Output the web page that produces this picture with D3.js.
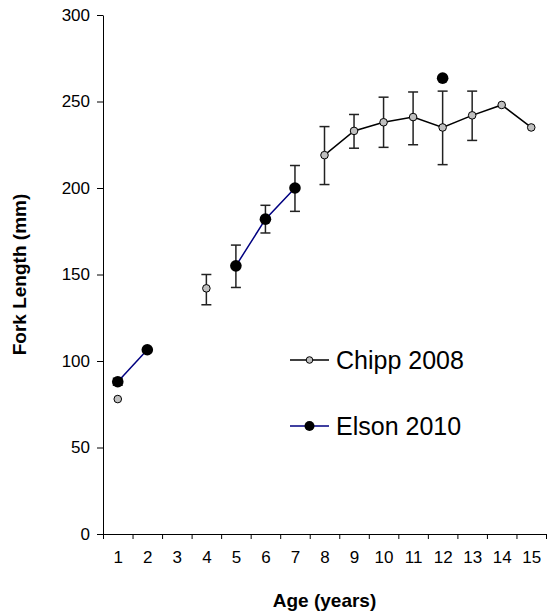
<!DOCTYPE html>
<html>
<head>
<meta charset="utf-8">
<script src="https://cdn.jsdelivr.net/npm/d3@7"></script>
<style>
  body { margin: 0; background: #fff; }
  text { font-family: "Liberation Sans", Arial, sans-serif; }
</style>
</head>
<body>
<svg width="549" height="615"></svg>
<script>
// ages on the x axis
const ages = [1, 2, 3, 4, 5, 6, 7, 8, 9, 10, 11, 12, 13, 14, 15];
const yTicks = [0, 50, 100, 150, 200, 250, 300];

// Chipp 2008: age, mean, low, high (null = no error bar)
const chippAge  = [1, 4, 8, 9, 10, 11, 12, 13, 14, 15];
const chippMean = [78, 142, 219, 233, 238, 241, 235, 242, 248, 235];
const chippLow  = [null, 132.5, 202, 223, 223.5, 225, 213.5, 227.5, null, null];
const chippHigh = [null, 150, 235.5, 242.5, 252.5, 255.5, 256, 256, null, null];
// which points are joined by the line
const chippLine = [8, 9, 10, 11, 12, 13, 14, 15];

// Elson 2010
const elsonAge  = [1, 2, 5, 6, 7, 12];
const elsonMean = [88, 106.5, 155, 182, 200, 263.5];
const elsonLow  = [86, null, 142.5, 174, 186.5, null];
const elsonHigh = [90, null, 167, 190, 213, null];
const elsonSegments = [[1, 2], [5, 6, 7]];

const svg = d3.select("svg");

// plot edges
const plot = { left: 103, right: 546, top: 15, bottom: 534 };

const x = d3.scaleLinear().domain([0.5, 15.5]).range([plot.left, plot.right]);
const y = d3.scaleLinear().domain([0, 300]).range([plot.bottom, plot.top]);

// y axis
const yAxis = svg.append("g")
    .attr("transform", `translate(${plot.left},0)`)
    .call(d3.axisLeft(y).tickValues(yTicks).tickSize(6).tickSizeOuter(0));
yAxis.selectAll("text").style("font-size", "17px").attr("fill", "#000").attr("x", -13);

// x axis: ticks between the ages, labels under them
const xAxis = svg.append("g")
    .attr("transform", `translate(0,${plot.bottom})`)
    .call(d3.axisBottom(x).tickValues(d3.range(0.5, 16, 1)).tickFormat("").tickSize(5).tickSizeOuter(0));
const xLabels = svg.append("g")
    .attr("transform", `translate(0,${plot.bottom})`)
    .call(d3.axisBottom(x).tickValues(ages).tickSize(0).tickFormat(d3.format("d")));
xLabels.select(".domain").remove();
xLabels.selectAll("text").style("font-size", "17px").attr("fill", "#000").attr("y", 17);

svg.selectAll(".domain, .tick line").attr("stroke", "#000");

// axis titles
svg.append("text")
    .attr("x", (plot.left + plot.right) / 2)
    .attr("y", 607)
    .attr("text-anchor", "middle")
    .style("font-size", "19px")
    .style("font-weight", "bold")
    .text("Age (years)");

svg.append("text")
    .attr("transform", "rotate(-90)")
    .attr("x", -(plot.top + plot.bottom) / 2)
    .attr("y", 26)
    .attr("text-anchor", "middle")
    .style("font-size", "19px")
    .style("font-weight", "bold")
    .text("Fork Length (mm)");

// error bars
function errorBars(ageArr, low, high) {
    const idx = ageArr.map((a, i) => i).filter(i => low[i] !== null);
    const g = svg.append("g").attr("stroke", "#222").attr("stroke-width", 1.5);
    idx.forEach(i => {
        const cx = x(ageArr[i]);
        g.append("line").attr("x1", cx).attr("x2", cx).attr("y1", y(low[i])).attr("y2", y(high[i]));
        g.append("line").attr("x1", cx - 5).attr("x2", cx + 5).attr("y1", y(low[i])).attr("y2", y(low[i]));
        g.append("line").attr("x1", cx - 5).attr("x2", cx + 5).attr("y1", y(high[i])).attr("y2", y(high[i]));
    });
}
errorBars(chippAge, chippLow, chippHigh);
errorBars(elsonAge, elsonLow, elsonHigh);

const line = d3.line().x(d => x(d[0])).y(d => y(d[1]));

// Chipp line
const chippPts = chippLine.map(a => [a, chippMean[chippAge.indexOf(a)]]);
svg.append("path")
    .attr("d", line(chippPts))
    .attr("fill", "none")
    .attr("stroke", "#000")
    .attr("stroke-width", 1.5);

// Elson lines
elsonSegments.forEach(seg => {
    const pts = seg.map(a => [a, elsonMean[elsonAge.indexOf(a)]]);
    svg.append("path")
        .attr("d", line(pts))
        .attr("fill", "none")
        .attr("stroke", "#000080")
        .attr("stroke-width", 1.5);
});

// markers
svg.append("g").selectAll("circle")
    .data(chippAge.map((a, i) => [a, chippMean[i]]))
    .join("circle")
    .attr("cx", d => x(d[0]))
    .attr("cy", d => y(d[1]))
    .attr("r", 3.8)
    .attr("fill", "#c0c0c0")
    .attr("stroke", "#000")
    .attr("stroke-width", 1);

svg.append("g").selectAll("circle")
    .data(elsonAge.map((a, i) => [a, elsonMean[i]]))
    .join("circle")
    .attr("cx", d => x(d[0]))
    .attr("cy", d => y(d[1]))
    .attr("r", 5.8)
    .attr("fill", "#000");

// legend
const legend = svg.append("g");
const legendItems = [
    { name: "Chipp 2008", color: "#000", fill: "#c0c0c0", r: 3.3, stroke: "#000" },
    { name: "Elson 2010", color: "#000080", fill: "#000", r: 5, stroke: "none" }
];
legendItems.forEach((d, i) => {
    const ly = 360 + i * 66;
    legend.append("line")
        .attr("x1", 290).attr("x2", 329)
        .attr("y1", ly).attr("y2", ly)
        .attr("stroke", d.color).attr("stroke-width", 1.5);
    legend.append("circle")
        .attr("cx", 309.5).attr("cy", ly).attr("r", d.r)
        .attr("fill", d.fill).attr("stroke", d.stroke);
    legend.append("text")
        .attr("x", 336)
        .attr("y", ly + 9)
        .style("font-size", "25px")
        .text(d.name);
});
</script>
</body>
</html>
